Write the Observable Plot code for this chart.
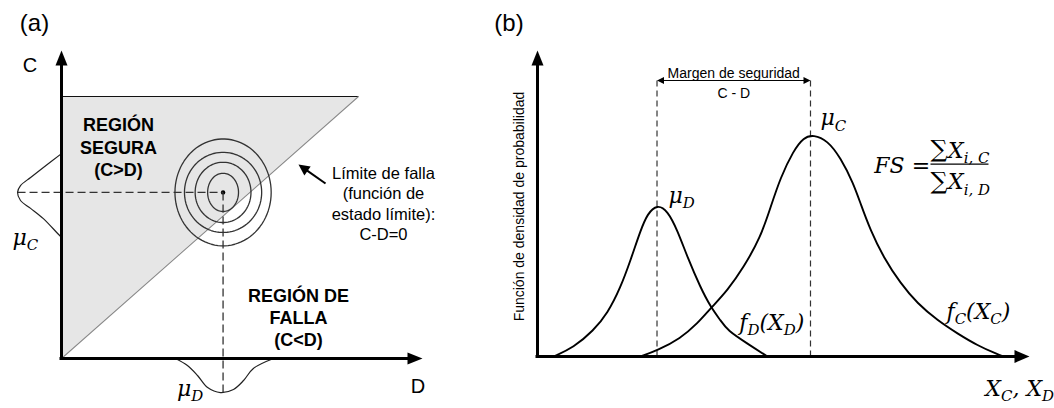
<!DOCTYPE html>
<html><head><meta charset="utf-8">
<script src="https://cdn.jsdelivr.net/npm/d3@7"></script>
<script src="https://cdn.jsdelivr.net/npm/@observablehq/plot@0.6"></script>
<style>
body{margin:0;background:#fff;}
#wrap{display:flex;width:1054px;height:408px;}
#wrap svg{overflow:visible;display:block}
</style></head><body><div id="wrap"></div>
<script>
// ---------- Panel (a): demand D vs capacity C (normalised units) ----------
const limitLine = [[0, 0], [1, 1]];           // C - D = 0
const meanD = 0.544, meanC = 0.634;           // joint mean
const contourRx = [0.052, 0.094, 0.130, 0.162];
const contourRy = [0.073, 0.115, 0.153, 0.204];
// marginal density of C, drawn to the left of the C axis
const margC_C = [0.782, 0.729, 0.691, 0.660, 0.634, 0.603, 0.573, 0.534, 0.477, 0.462];
const margC_f = [0, 0.061, 0.104, 0.138, 0.148, 0.138, 0.104, 0.061, 0.013, 0];
// marginal density of D, drawn below the D axis
const margD_D = [0.384, 0.424, 0.458, 0.492, 0.535, 0.579, 0.613, 0.646, 0.714];
const margD_f = [0, 0.027, 0.065, 0.111, 0.130, 0.118, 0.084, 0.038, 0];
const textsA = {
  tag: "(a)", axisC: "C", axisD: "D",
  safe: "REGIÓN\nSEGURA\n(C>D)", fail: "REGIÓN DE\nFALLA\n(C<D)",
  limit: "Límite de falla\n(función de\nestado límite):\nC-D=0",
  muC: "μ_{C}", muD: "μ_{D}"
};

// ---------- Panel (b): probability density functions ----------
const fD_X = [0.326,0.733,1.141,1.426,1.690,1.894,2.098,2.240,2.438,2.648,2.851,3.055,3.320,3.523,3.727,3.870,4.277,4.684];
const fD_f = [0,0.029,0.085,0.141,0.225,0.314,0.412,0.467,0.497,0.477,0.412,0.324,0.225,0.163,0.118,0.085,0.042,0];
const fC_X = [2.098,2.444,2.912,3.259,3.523,3.870,4.196,4.542,4.745,4.949,5.214,5.418,5.621,5.906,6.171,6.436,6.578,6.782,7.047,7.393,7.739,8.147,8.554,8.961,9.369,9.491];
const fC_f = [0,0.020,0.059,0.108,0.157,0.216,0.291,0.389,0.487,0.585,0.673,0.716,0.725,0.706,0.650,0.565,0.500,0.412,0.324,0.239,0.173,0.118,0.075,0.036,0.007,0];
const muD = 2.434, muC = 5.56;
const textsB = {
  tag: "(b)", yLabel: "Función de densidad de probabilidad",
  margin: "Margen de seguridad", diff: "C - D",
  muD: "μ_{D}", muC: "μ_{C}", fD: "f_{D}(X_{D})", fC: "f_{C}(X_{C})",
  xLabel: "X_{C}, X_{D}", fs: "FS =", sum: "∑", num: "X_{i, C}", den: "X_{i, D}"
};

// ---------- helpers ----------
const head = (len, hw) => ({draw(ctx) { ctx.moveTo(0, 0); ctx.lineTo(hw, len); ctx.lineTo(-hw, len); ctx.closePath(); }});
const SANS = "Liberation Sans, Arial, sans-serif";
const SERIF = "DejaVu Serif, serif";
const MATH = 22;
const zip = (a, b) => a.map((v, i) => [v, b[i]]);

const ellipses = contourRx.flatMap((rx, i) =>
  d3.range(0, 361, 4).map(a => ({i, D: meanD + rx * Math.cos(a * Math.PI / 180), C: meanC + contourRy[i] * Math.sin(a * Math.PI / 180)})));

const pa = Plot.plot({
  width: 470, height: 408,
  marginLeft: 61, marginRight: 112, marginTop: 96, marginBottom: 50,
  x: {domain: [0, 1], axis: null}, y: {domain: [0, 1], axis: null},
  style: {overflow: "visible", background: "transparent"},
  marks: [
    Plot.areaY([0, 1], {x: d => d, y1: d => d, y2: 1, fill: "#e6e6e6"}),
    Plot.ruleY([1], {x1: 0, x2: 1, stroke: "#111", strokeWidth: 1.2}),
    Plot.line(limitLine, {x: d => d[0], y: d => d[1], stroke: "#8a8a8a", strokeWidth: 1.1}),
    Plot.line(ellipses, {x: "D", y: "C", z: "i", stroke: "#333", strokeWidth: 1.3, curve: "linear"}),
    Plot.dot([0], {x: meanD, y: meanC, r: 2.2, fill: "black", stroke: "none"}),
    Plot.link([0], {x1: -0.148, y1: meanC, x2: meanD, y2: meanC, stroke: "#333", strokeWidth: 1.3, strokeDasharray: "8,4"}),
    Plot.link([0], {x1: meanD, y1: meanC, x2: meanD, y2: -0.13, stroke: "#333", strokeWidth: 1.3, strokeDasharray: "8,4"}),
    Plot.line(zip(margC_C, margC_f), {x: d => -d[1], y: d => d[0], stroke: "#222", strokeWidth: 1.2, curve: "catmull-rom"}),
    Plot.line(zip(margD_D, margD_f), {x: d => d[0], y: d => -d[1], stroke: "#222", strokeWidth: 1.2, curve: "catmull-rom"}),
    // axes
    Plot.ruleX([0], {y1: 0, y2: 1.14, stroke: "black", strokeWidth: 3, strokeLinecap: "square"}),
    Plot.ruleY([0], {x1: 0, x2: 1.18, stroke: "black", strokeWidth: 3, strokeLinecap: "square"}),
    Plot.dot([0], {x: 0, y: 1.176, symbol: head(15, 6), fill: "black", stroke: "none"}),
    Plot.dot([0], {x: 1.2155, y: 0, symbol: head(15, 6), rotate: 90, fill: "black", stroke: "none"}),
    // pointer arrow to the limit line
    Plot.link([0], {x1: 0.889, y1: 0.668, x2: 0.826, y2: 0.718, stroke: "black", strokeWidth: 2}),
    Plot.dot([0], {x: 0.798, y: 0.740, symbol: head(11, 5.5), rotate: -55, fill: "black", stroke: "none"}),
    // texts
    Plot.text([textsA.tag], {x: -0.091, y: 1.279, fontSize: 24, fontFamily: SANS}),
    Plot.text([textsA.axisC], {x: -0.106, y: 1.118, fontSize: 20, fontFamily: SANS}),
    Plot.text([textsA.axisD], {x: 1.2, y: -0.107, fontSize: 20, fontFamily: SANS}),
    Plot.text([textsA.safe], {x: 0.192, y: 0.809, fontSize: 18, fontWeight: "bold", fontFamily: SANS, lineHeight: 1.24}),
    Plot.text([textsA.fail], {x: 0.798, y: 0.158, fontSize: 18, fontWeight: "bold", fontFamily: SANS, lineHeight: 1.22}),
    Plot.text([textsA.limit], {x: 1.084, y: 0.594, fontSize: 16.5, fontFamily: SANS, lineHeight: 1.25}),
    Plot.text([textsA.muC], {x: -0.165, y: 0.462, fontSize: MATH, fontFamily: SERIF, fontStyle: "italic", textAnchor: "start"}),
    Plot.text([textsA.muD], {x: 0.389, y: -0.115, fontSize: MATH, fontFamily: SERIF, fontStyle: "italic", textAnchor: "start"})
  ]
});

const pb = Plot.plot({
  width: 584, height: 408,
  marginLeft: 67, marginRight: 26, marginTop: 50, marginBottom: 52,
  x: {domain: [0, 10], axis: null}, y: {domain: [0, 1], axis: null},
  style: {overflow: "visible", background: "transparent"},
  marks: [
    Plot.link([muD, muC], {x1: d => d, x2: d => d, y1: 0, y2: 0.902, stroke: "#333", strokeWidth: 1.2, strokeDasharray: "6,4"}),
    Plot.line(zip(fD_X, fD_f), {x: d => d[0], y: d => d[1], stroke: "black", strokeWidth: 1.9, curve: "basis"}),
    Plot.line(zip(fC_X, fC_f), {x: d => d[0], y: d => d[1], stroke: "black", strokeWidth: 1.9, curve: "basis"}),
    // safety margin arrow
    Plot.link([0], {x1: muD + 0.12, x2: muC - 0.12, y1: 0.902, y2: 0.902, stroke: "black", strokeWidth: 1}),
    Plot.dot([0], {x: muD, y: 0.902, symbol: head(7, 3.5), rotate: -90, fill: "black", stroke: "none"}),
    Plot.dot([0], {x: muC, y: 0.902, symbol: head(7, 3.5), rotate: 90, fill: "black", stroke: "none"}),
    // axes
    Plot.ruleX([0], {y1: 0, y2: 0.967, stroke: "black", strokeWidth: 3, strokeLinecap: "square"}),
    Plot.ruleY([0], {x1: 0, x2: 9.8, stroke: "black", strokeWidth: 3, strokeLinecap: "square"}),
    Plot.dot([0], {x: 0, y: 1, symbol: head(15, 6), fill: "black", stroke: "none"}),
    Plot.dot([0], {x: 10.02, y: 0, symbol: head(15, 6.5), rotate: 90, fill: "black", stroke: "none"}),
    // fraction bar
    Plot.link([0], {x1: 8.004, x2: 9.185, y1: 0.629, y2: 0.629, stroke: "black", strokeWidth: 1.2}),
    // texts
    Plot.text([textsB.tag], {x: -0.58, y: 1.088, fontSize: 24, fontFamily: SANS}),
    Plot.text([textsB.yLabel], {x: -0.367, y: 0.49, rotate: -90, fontSize: 14, fontFamily: SANS}),
    Plot.text([textsB.margin], {x: (muD + muC) / 2, y: 0.926, fontSize: 14, fontFamily: SANS}),
    Plot.text([textsB.diff], {x: (muD + muC) / 2, y: 0.858, fontSize: 14, fontFamily: SANS}),
    Plot.text([textsB.muD], {x: 2.668, y: 0.526, fontSize: MATH, fontFamily: SERIF, fontStyle: "italic", textAnchor: "start"}),
    Plot.text([textsB.muC], {x: 5.764, y: 0.778, fontSize: MATH, fontFamily: SERIF, fontStyle: "italic", textAnchor: "start"}),
    Plot.text([textsB.fD], {x: 4.11, y: 0.111, fontSize: MATH, fontFamily: SERIF, fontStyle: "italic", textAnchor: "start"}),
    Plot.text([textsB.fC], {x: 8.33, y: 0.147, fontSize: MATH, fontFamily: SERIF, fontStyle: "italic", textAnchor: "start"}),
    Plot.text([textsB.xLabel], {x: 9.12, y: -0.105, fontSize: MATH, fontFamily: SERIF, fontStyle: "italic", textAnchor: "start"}),
    Plot.text([textsB.fs], {x: 6.86, y: 0.624, fontSize: MATH, fontFamily: SERIF, fontStyle: "italic", textAnchor: "start"}),
    Plot.text([textsB.sum, textsB.sum], {x: 8.004, y: (d, i) => i ? 0.572 : 0.676, fontSize: 24, fontFamily: SERIF, textAnchor: "start"}),
    Plot.text([textsB.num], {x: 8.36, y: 0.673, fontSize: MATH, fontFamily: SERIF, fontStyle: "italic", textAnchor: "start"}),
    Plot.text([textsB.den], {x: 8.36, y: 0.569, fontSize: MATH, fontFamily: SERIF, fontStyle: "italic", textAnchor: "start"})
  ]
});

const wrap = document.getElementById("wrap");
wrap.appendChild(pa);
wrap.appendChild(pb);

// subscripts: turn "_{...}" into lowered, smaller tspans
function tspan(parent, str, size, dy) {
  const t = document.createElementNS("http://www.w3.org/2000/svg", "tspan");
  if (size) t.setAttribute("font-size", size);
  if (dy) t.setAttribute("dy", dy);
  t.textContent = str;
  parent.appendChild(t);
}
function richify(svg) {
  svg.querySelectorAll("text").forEach(el => {
    const s = el.textContent;
    if (!s.includes("_{")) return;
    const fs = parseFloat(getComputedStyle(el).fontSize) || 20;
    const sub = fs * 0.68, off = fs * 0.25;
    el.textContent = "";
    const re = /_\{([^}]*)\}/g;
    let last = 0, m, down = false;
    while ((m = re.exec(s))) {
      if (m.index > last) { tspan(el, s.slice(last, m.index), null, down ? -off : 0); down = false; }
      tspan(el, m[1], sub, down ? 0 : off); down = true;
      last = re.lastIndex;
    }
    if (last < s.length) tspan(el, s.slice(last), null, down ? -off : 0);
  });
}
richify(pa);
richify(pb);
</script>
</body></html>
